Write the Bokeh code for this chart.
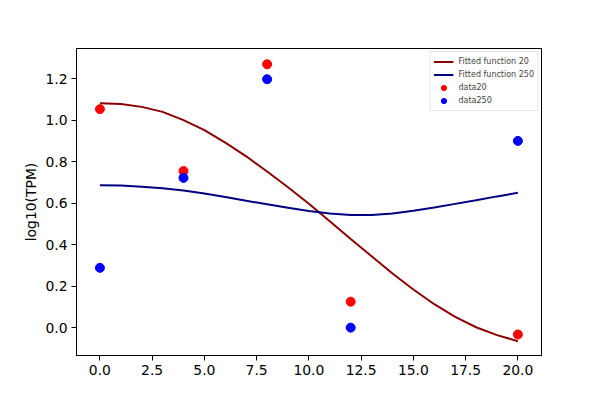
from bokeh.plotting import figure
from bokeh.models import FixedTicker, NumeralTickFormatter, Range1d
from bokeh.embed import file_html
from bokeh.resources import INLINE

# --- data ---
days = [0, 4, 8, 12, 20]
data20 = [1.053, 0.755, 1.269, 0.126, -0.032]
data250 = [0.289, 0.722, 1.197, 0.001, 0.900]

fit_x = [0, 1, 2, 3, 4, 5, 6, 7, 8, 9, 10, 11, 12, 13, 14, 15, 16, 17, 18, 19, 20]
fit20 = [1.082, 1.078, 1.064, 1.040, 1.000, 0.952, 0.892, 0.826, 0.753, 0.677,
         0.598, 0.513, 0.428, 0.345, 0.262, 0.185, 0.114, 0.053, 0.003, -0.035, -0.064]
fit250 = [0.687, 0.685, 0.680, 0.672, 0.661, 0.647, 0.630, 0.612, 0.595, 0.578,
          0.563, 0.551, 0.543, 0.544, 0.551, 0.564, 0.580, 0.597, 0.614, 0.633, 0.650]

x_ticks = [0, 2.5, 5, 7.5, 10, 12.5, 15, 17.5, 20]
y_ticks = [0.0, 0.2, 0.4, 0.6, 0.8, 1.0, 1.2]

FONT = "DejaVu Sans"

p = figure(width=592, height=392, output_backend="svg", toolbar_location=None,
           x_range=Range1d(-1.12, 21.13), y_range=Range1d(-0.133, 1.345),
           min_border_left=76, min_border_right=51, min_border_top=48, min_border_bottom=37)

p.line(fit_x, fit20, line_color="darkred", line_width=2, legend_label="Fitted function 20")
p.line(fit_x, fit250, line_color="navy", line_width=2, legend_label="Fitted function 250")
p.scatter(days, data20, size=9, fill_color="red", line_color="red", legend_label="data20")
p.scatter(days, data250, size=9, fill_color="blue", line_color="blue", legend_label="data250")

p.xgrid.visible = False
p.ygrid.visible = False
p.outline_line_color = "black"
p.outline_line_width = 1
p.background_fill_color = "white"
p.border_fill_color = "white"

p.xaxis.ticker = FixedTicker(ticks=x_ticks)
p.yaxis.ticker = FixedTicker(ticks=y_ticks)
p.xaxis.formatter = NumeralTickFormatter(format="0.0")
p.yaxis.formatter = NumeralTickFormatter(format="0.0")
p.yaxis.axis_label = "log10(TPM)"

for ax in (p.xaxis, p.yaxis):
    ax.axis_line_color = "black"
    ax.major_tick_line_color = "black"
    ax.minor_tick_line_color = None
    ax.major_tick_out = 5
    ax.major_tick_in = 0
    ax.major_label_standoff = 4
    ax.major_label_text_font = FONT
    ax.major_label_text_font_size = "13.9px"
    ax.major_label_text_color = "black"
    ax.axis_label_text_font = FONT
    ax.axis_label_text_font_size = "13.9px"
    ax.axis_label_text_font_style = "normal"
    ax.axis_label_text_color = "black"
p.yaxis.axis_label_standoff = 3

lg = p.legend[0]
lg.location = "top_right"
lg.margin = 3
lg.padding = 3
lg.spacing = 0
lg.label_text_font = FONT
lg.label_text_font_size = "8px"
lg.label_height = 13
lg.glyph_height = 13
lg.glyph_width = 20
lg.label_standoff = 5
lg.border_line_color = "#cccccc"
lg.border_line_width = 1
lg.background_fill_alpha = 0.8

open("out.html", "w").write(file_html(p, INLINE))
